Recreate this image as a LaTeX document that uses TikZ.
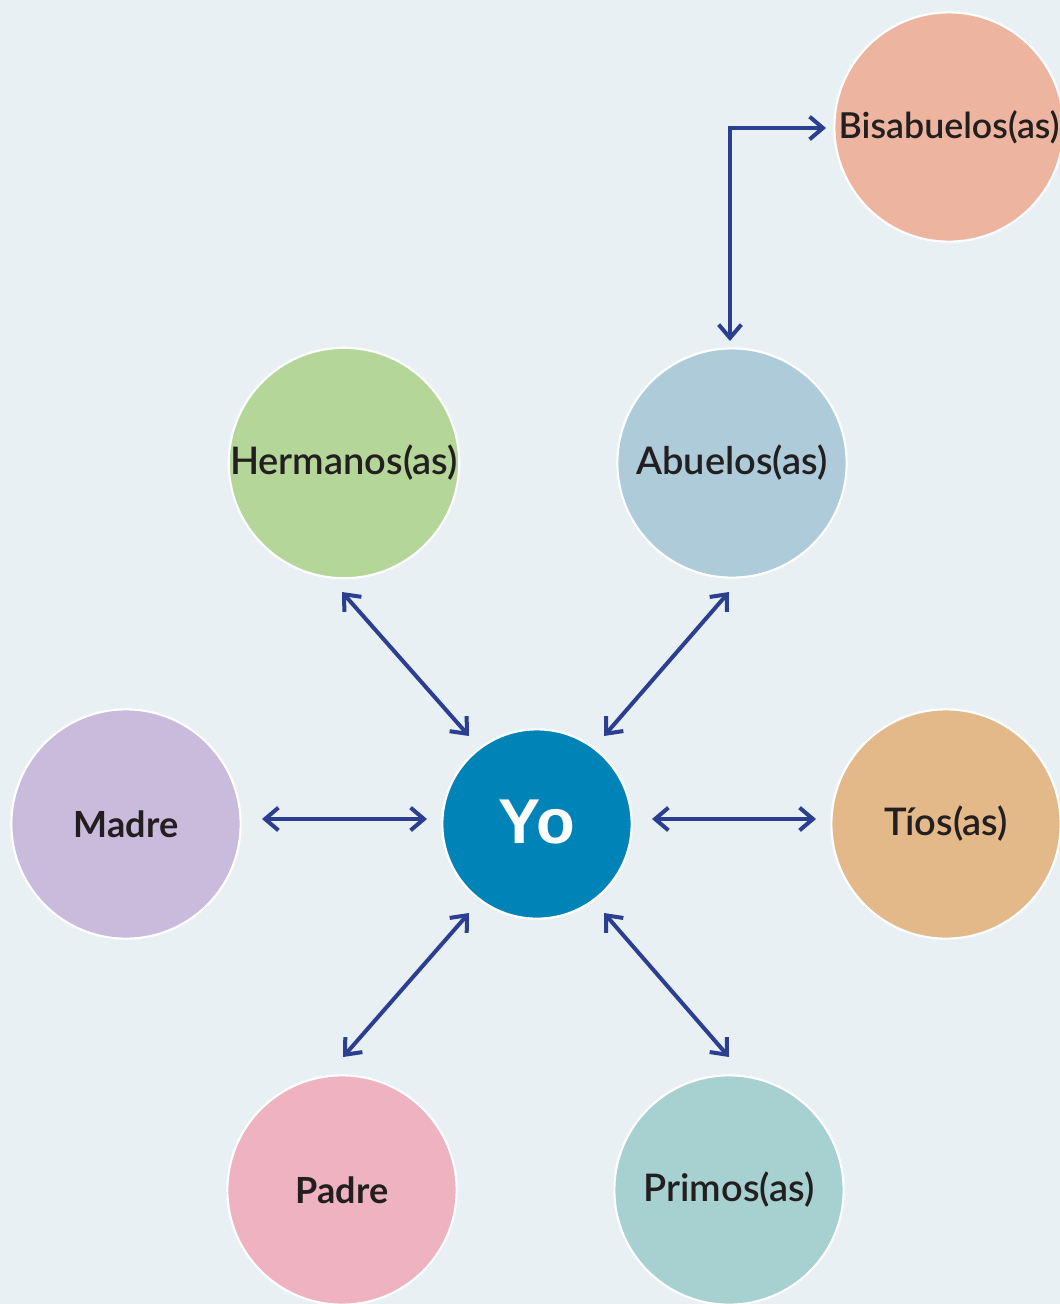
\documentclass[tikz,border=0pt]{standalone}
\usepackage{fontspec}
\usetikzlibrary{arrows.meta,calc}
\setmainfont{Lato}[BoldFont=* Bold]
\IfFontExistsTF{Lato Semibold}
  {\newfontfamily\lblfont{Lato Semibold}}
  {\newfontfamily\lblfont{Lato Bold}}
\newfontfamily\yofont{Liberation Sans}[UprightFont=* Bold]
\newfontfamily\parentfont{Lato}[UprightFont=* Bold]

\definecolor{bgcol}{HTML}{E8F0F4}
\definecolor{linkcol}{HTML}{2B3E8F}
\definecolor{txtcol}{HTML}{231F20}
\definecolor{cBis}{HTML}{EDB4A0}
\definecolor{cHer}{HTML}{B5D699}
\definecolor{cAbu}{HTML}{AECBDA}
\definecolor{cMad}{HTML}{C8BBDB}
\definecolor{cYo}{HTML}{0083B7}
\definecolor{cTio}{HTML}{E4B98A}
\definecolor{cPad}{HTML}{EEB2C1}
\definecolor{cPri}{HTML}{A7D0D0}

\begin{document}
\begin{tikzpicture}[x=0.75pt, y=-0.75pt,
  member/.style={circle, draw=white, line width=1.6pt, minimum size=172pt,
    inner sep=0pt, text=txtcol, font=\lblfont\fontsize{28.5}{32}\selectfont},
  parent/.style={member, font=\parentfont\fontsize{27}{31}\selectfont},
  self/.style={circle, draw=white, line width=1.6pt, minimum size=142pt,
    inner sep=0pt, fill=cYo, text=white, font=\yofont\fontsize{47.5}{52}\selectfont},
  link/.style={draw=linkcol, line width=3pt, miter limit=10,
    {Straight Barb[length=10pt, width=17pt]}-{Straight Barb[length=10pt, width=17pt]}}
]
  % background
  \fill[bgcol] (0,0) rectangle (1060,1304);
  \useasboundingbox (0,0) rectangle (1060,1304);

  % family members
  \node[member, fill=cBis, font=\lblfont\fontsize{26.8}{31}\selectfont]
                           (bis)   at (949,127)  {Bisabuelos(as)};
  \node[member, fill=cHer] (herm)  at (344,463)  {Hermanos(as)};
  \node[member, fill=cAbu] (abu)   at (732,463)  {Abuelos(as)};
  \node[parent, fill=cMad] (madre) at (126,824)  {Madre};
  \node[self]              (yo)    at (537,824)  {\raisebox{4pt}{Yo}};
  \node[member, fill=cTio] (tios)  at (946,824)  {Tíos(as)};
  \node[parent, fill=cPad] (padre) at (342,1190) {Padre};
  \node[member, fill=cPri] (primos) at (729,1190) {Primos(as)};

  % relations
  \draw[link] ($(herm)+(-2,129)$) -- ($(yo)+(-68,-88)$);
  \draw[link] ($(abu)+(-3,129)$) -- ($(yo)+(67,-88)$);
  \draw[link] ($(madre)+(136,-5)$) -- ($(yo)+(-110,-5)$);
  \draw[link] ($(yo)+(115,-5)$) -- ($(tios)+(-130,-5)$);
  \draw[link] ($(padre)+(1,-133)$) -- ($(yo)+(-68,89)$);
  \draw[link] ($(primos)+(0,-133)$) -- ($(yo)+(67,89)$);
  \draw[link] ($(abu)+(-2,-122)$) |- ($(bis)+(-123,1)$);
\end{tikzpicture}
\end{document}
